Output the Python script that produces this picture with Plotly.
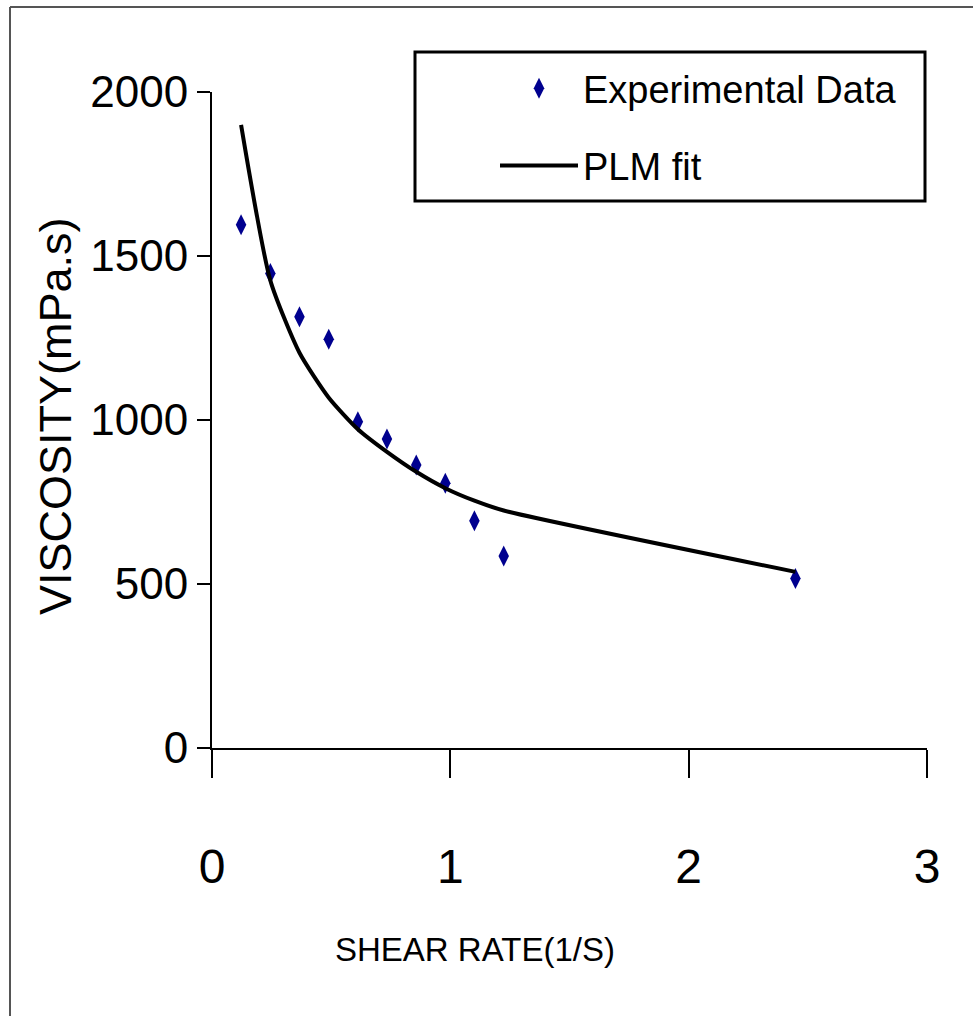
import plotly.graph_objects as go

# ---- data ----
shear_rate = [0.122, 0.245, 0.367, 0.490, 0.612, 0.734, 0.857, 0.979, 1.101, 1.224, 2.448]
viscosity_exp = [1595, 1447, 1315, 1246, 995, 942, 863, 807, 693, 585, 517]
viscosity_fit = [1900, 1425, 1205, 1068, 972, 903, 842, 792, 754, 724, 537]
x_ticks = [0, 1, 2, 3]
y_ticks = [0, 500, 1000, 1500, 2000]

W, H = 973, 1016
L, R, T, B = 212, 46, 92, 268
PW, PH = W - L - R, H - T - B

def px(xp):
    return (xp - L) / PW

def py(yp):
    return (H - B - yp) / PH

FONT = "Liberation Sans, Arial, sans-serif"

fig = go.Figure()
fig.add_trace(go.Scatter(
    x=shear_rate, y=viscosity_exp, mode="markers", name="Experimental Data",
    legendgroup="a",
    marker=dict(symbol="diamond-tall", size=15, color="#00008f"),
))
fig.add_trace(go.Scatter(
    x=shear_rate, y=viscosity_fit, mode="lines", name="PLM fit",
    legendgroup="b",
    line=dict(color="black", width=4, shape="spline", smoothing=0.6),
))

fig.update_layout(
    width=W, height=H, autosize=False,
    margin=dict(l=L, r=R, t=T, b=B),
    paper_bgcolor="white", plot_bgcolor="white",
    font=dict(family=FONT, color="black"),
    showlegend=True,
    legend=dict(
        x=px(495), y=py(57), xanchor="left", yanchor="top",
        bgcolor="rgba(0,0,0,0)", borderwidth=0,
        font=dict(family=FONT, size=38, color="black"),
        itemwidth=78, tracegroupgap=25,
    ),
    xaxis=dict(
        range=[0, 3], tickvals=x_ticks, ticktext=[str(v) for v in x_ticks],
        showline=True, linecolor="black", linewidth=2,
        ticks="outside", ticklen=28, tickwidth=2, tickcolor="black",
        showgrid=False, zeroline=False,
        tickfont=dict(family=FONT, size=48, color="black"),
        ticklabelstandoff=47,
    ),
    yaxis=dict(
        range=[0, 2000], tickvals=y_ticks, ticktext=[str(v) for v in y_ticks],
        showline=True, linecolor="black", linewidth=2,
        ticks="outside", ticklen=13, tickwidth=2, tickcolor="black",
        showgrid=False, zeroline=False,
        tickfont=dict(family=FONT, size=44, color="black"),
        ticklabelstandoff=0,
    ),
    shapes=[
        # legend box
        dict(type="rect", xref="paper", yref="paper",
             x0=px(415), x1=px(925), y0=py(201), y1=py(52),
             line=dict(color="black", width=3), fillcolor="rgba(0,0,0,0)"),
        # outer chart frame (top and left edges)
        dict(type="line", xref="paper", yref="paper",
             x0=px(10), x1=px(10), y0=py(1016), y1=py(7),
             line=dict(color="#555555", width=2)),
        dict(type="line", xref="paper", yref="paper",
             x0=px(10), x1=px(973), y0=py(7), y1=py(7),
             line=dict(color="#555555", width=2)),
    ],
    annotations=[
        dict(text="VISCOSITY(mPa.s)", xref="paper", yref="paper",
             x=px(55), y=py(416), xanchor="center", yanchor="middle",
             textangle=-90, showarrow=False,
             font=dict(family=FONT, size=45, color="black")),
        dict(text="SHEAR RATE(1/S)", xref="paper", yref="paper",
             x=px(475), y=py(949), xanchor="center", yanchor="middle",
             showarrow=False,
             font=dict(family=FONT, size=33, color="black")),
    ],
)

fig.write_html("out.html")
